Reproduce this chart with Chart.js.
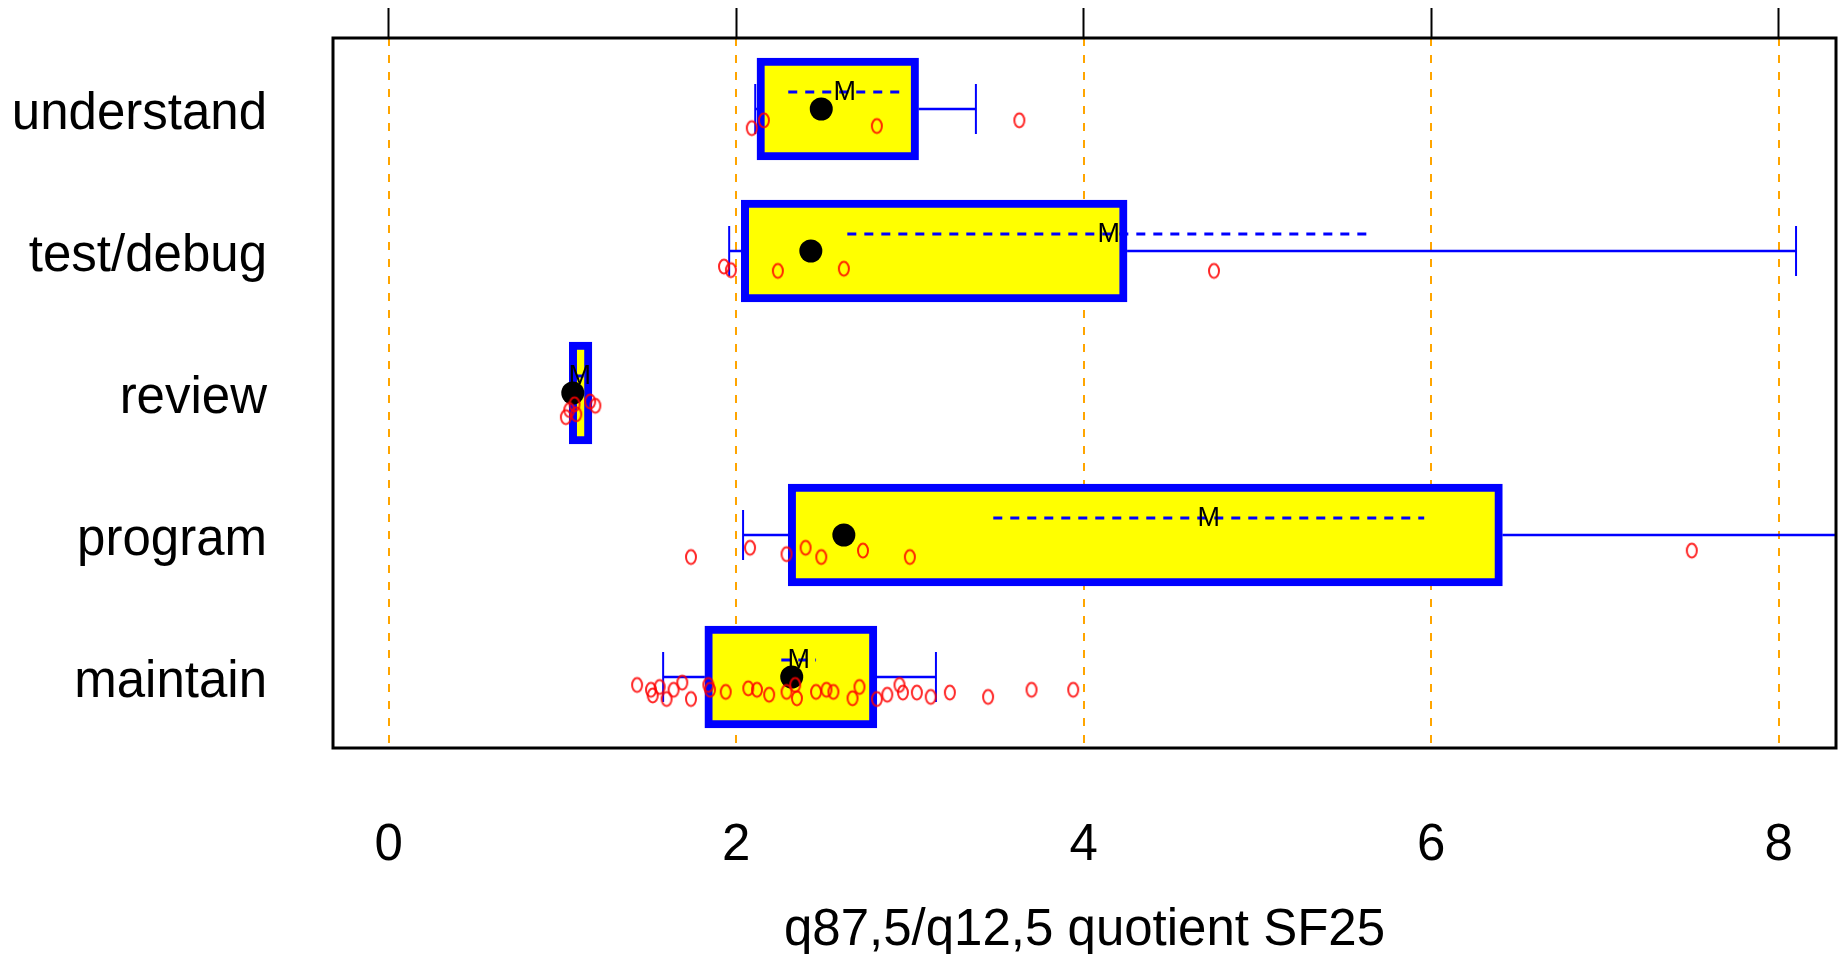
<!DOCTYPE html>
<html>
<head>
<meta charset="utf-8">
<script src="https://cdn.jsdelivr.net/npm/chart.js@4.4.1/dist/chart.umd.min.js"></script>
<style>
  html, body { margin: 0; padding: 0; background: #fff; }
  #wrap { width: 1839px; height: 954px; }
</style>
</head>
<body>
<div id="wrap"><canvas id="chart" width="1839" height="954"></canvas></div>
<script>
// categories from bottom (y = 1) to top (y = 5)
const categories = ["maintain", "program", "review", "test/debug", "understand"];
const xTicks = [0, 2, 4, 6, 8];

// box (quartiles), whiskers, big black dot
const boxLow = [1.82, 2.30, 1.04, 2.03, 2.12];
const boxHigh = [2.81, 6.41, 1.17, 4.25, 3.05];
const whiskerLow = [1.58, 2.04, 1.06, 1.96, 2.11];
const whiskerHigh = [3.15, 8.80, 1.15, 8.10, 3.38];
const dotValue = [2.32, 2.62, 1.06, 2.43, 2.49];

// dashed interval with "M" at its middle
const intervalLow = [2.26, 3.48, 1.07, 2.64, 2.30];
const intervalHigh = [2.46, 5.96, 1.13, 5.65, 2.95];

// raw values (red circles) and their vertical jitter, per category
const maintainPts = [1.43, 1.51, 1.56, 1.52, 1.60, 1.64, 1.69, 1.74, 1.84, 1.85, 1.94, 2.07, 2.12, 2.19, 2.29, 2.34,
  2.35, 2.46, 2.52, 2.56, 2.67, 2.71, 2.81, 2.87, 2.94, 2.96, 3.04, 3.12, 3.23, 3.45, 3.70, 3.94];
const maintainJit = [-0.056, -0.09, -0.07, -0.13, -0.155, -0.09, -0.04, -0.155, -0.056, -0.09, -0.105, -0.08, -0.09, -0.125, -0.105, -0.056,
  -0.15, -0.105, -0.09, -0.105, -0.15, -0.07, -0.155, -0.125, -0.056, -0.11, -0.11, -0.14, -0.11, -0.14, -0.09, -0.09];
const programPts = [1.74, 2.08, 2.29, 2.40, 2.49, 2.73, 3.00, 7.50];
const programJit = [-0.155, -0.09, -0.135, -0.09, -0.155, -0.11, -0.155, -0.11];
const reviewPts = [1.02, 1.04, 1.07, 1.08, 1.16, 1.19];
const reviewJit = [-0.17, -0.12, -0.08, -0.15, -0.06, -0.09];
const testPts = [1.93, 1.97, 2.24, 2.62, 4.75];
const testJit = [-0.11, -0.135, -0.14, -0.125, -0.14];
const understandPts = [2.09, 2.16, 2.81, 3.63];
const understandJit = [-0.135, -0.08, -0.12, -0.08];

const rawPts = [maintainPts, programPts, reviewPts, testPts, understandPts];
const rawJit = [maintainJit, programJit, reviewJit, testJit, understandJit];

const FONT = '"Liberation Sans", Arial, sans-serif';

// small red ellipse used as point style
const ring = document.createElement("canvas");
ring.width = 14;
ring.height = 19;
const rc = ring.getContext("2d");
rc.strokeStyle = "rgba(255,0,0,0.85)";
rc.lineWidth = 2;
rc.beginPath();
rc.ellipse(7, 9.5, 5, 7, 0, 0, Math.PI * 2);
rc.stroke();

const pointData = [];
rawPts.forEach((list, i) => {
    list.forEach((v, j) => pointData.push({ x: v, y: i + 1 + rawJit[i][j] }));
});

// whiskers, dashed interval and the "M" label, drawn right after the boxes
const boxExtras = {
    id: "boxExtras",
    afterDatasetDraw(chart, args) {
        if (args.meta.type !== "bar") return;
        const ctx = chart.ctx;
        const xs = chart.scales.x;
        const ys = chart.scales.y;
        const a = chart.chartArea;
        ctx.save();
        ctx.beginPath();
        ctx.rect(a.left, a.top, a.right - a.left, a.bottom - a.top);
        ctx.clip();
        categories.forEach((c, i) => {
            const py = ys.getPixelForValue(i + 1);
            ctx.strokeStyle = "#0000ff";
            ctx.setLineDash([]);
            const ends = [];
            if (whiskerLow[i] < boxLow[i]) ends.push([boxLow[i], whiskerLow[i]]);
            if (whiskerHigh[i] > boxHigh[i]) ends.push([boxHigh[i], whiskerHigh[i]]);
            ends.forEach(([from, to]) => {
                const px = xs.getPixelForValue(to);
                ctx.lineWidth = 2.5;
                ctx.beginPath();
                ctx.moveTo(xs.getPixelForValue(from), py);
                ctx.lineTo(px, py);
                ctx.stroke();
                ctx.lineWidth = 2;
                ctx.beginPath();
                ctx.moveTo(px, py - 25);
                ctx.lineTo(px, py + 25);
                ctx.stroke();
            });
            const dy = py - 17;
            ctx.lineWidth = 3;
            ctx.setLineDash([9, 8]);
            ctx.beginPath();
            ctx.moveTo(xs.getPixelForValue(intervalLow[i]), dy);
            ctx.lineTo(xs.getPixelForValue(intervalHigh[i]), dy);
            ctx.stroke();
            ctx.setLineDash([]);
            ctx.fillStyle = "#000";
            ctx.font = "27px " + FONT;
            ctx.textAlign = "center";
            ctx.textBaseline = "middle";
            ctx.fillText("M", xs.getPixelForValue((intervalLow[i] + intervalHigh[i]) / 2), dy + 1);
        });
        ctx.restore();
    },
    afterDatasetsDraw(chart) {
        const a = chart.chartArea;
        const ctx = chart.ctx;
        ctx.save();
        ctx.strokeStyle = "#000";
        ctx.lineWidth = 3;
        ctx.strokeRect(a.left, a.top, a.right - a.left, a.bottom - a.top);
        ctx.restore();
    }
};

const setXTicks = (scale) => { scale.ticks = xTicks.map((v) => ({ value: v })); };
const noPad = (s) => { s.paddingTop = 0; s.paddingBottom = 0; s.paddingLeft = 0; s.paddingRight = 0; };

new Chart(document.getElementById("chart"), {
    type: "scatter",
    data: {
        datasets: [
            {
                label: "raw",
                type: "scatter",
                data: pointData,
                pointStyle: ring,
                pointRadius: 6,
                order: 0,
                xAxisID: "x",
                yAxisID: "y",
            },
            {
                label: "dot",
                type: "scatter",
                data: dotValue.map((v, i) => ({ x: v, y: i + 1 })),
                pointRadius: 11.5,
                backgroundColor: "#000",
                borderWidth: 0,
                order: 1,
                xAxisID: "x",
                yAxisID: "y",
            },
            {
                label: "box",
                type: "bar",
                indexAxis: "y",
                data: boxLow.map((v, i) => ({ x: [v, boxHigh[i]], y: i + 1 })),
                backgroundColor: "#ffff00",
                borderColor: "#0000ff",
                borderWidth: 8,
                borderSkipped: false,
                barThickness: 102,
                order: 3,
                xAxisID: "x",
                yAxisID: "y",
            },
        ],
    },
    options: {
        responsive: false,
        animation: false,
        layout: { autoPadding: false, padding: { left: 0, right: 3, top: 0, bottom: 0 } },
        plugins: {
            legend: { display: false },
            tooltip: { enabled: false },
        },
        scales: {
            x: {
                type: "linear",
                position: "bottom",
                min: -0.32,
                max: 8.33,
                afterBuildTicks: setXTicks,
                afterFit: (s) => { s.height = 206; noPad(s); },
                grid: { color: "#ffa500", lineWidth: 2, drawTicks: false },
                border: { display: false, dash: [8, 9] },
                ticks: {
                    padding: 67,
                    maxRotation: 0,
                    autoSkip: false,
                    color: "#000",
                    font: { family: FONT, size: 51 },
                },
                title: {
                    display: true,
                    text: "q87,5/q12,5 quotient SF25",
                    color: "#000",
                    font: { family: FONT, size: 51, lineHeight: 0.9 },
                    padding: { top: 0, bottom: 0 },
                },
            },
            x2: {
                type: "linear",
                position: "top",
                min: -0.32,
                max: 8.33,
                afterBuildTicks: setXTicks,
                afterFit: (s) => { s.height = 38; noPad(s); },
                grid: { drawOnChartArea: false, drawTicks: true, tickLength: 30, tickColor: "#000", tickWidth: 2 },
                border: { display: false },
                ticks: { display: false },
            },
            y: {
                type: "linear",
                min: 0.5,
                max: 5.5,
                offset: false,
                afterBuildTicks: (s) => { s.ticks = categories.map((c, i) => ({ value: i + 1 })); },
                afterFit: (s) => { s.width = 333; noPad(s); },
                grid: { display: false, drawTicks: false, offset: false },
                border: { display: false },
                ticks: {
                    padding: 66,
                    labelOffset: 6,
                    color: "#000",
                    font: { family: FONT, size: 51 },
                    callback: (v) => categories[Math.round(v) - 1] || "",
                },
            },
        },
    },
    plugins: [boxExtras],
});
</script>
</body>
</html>
